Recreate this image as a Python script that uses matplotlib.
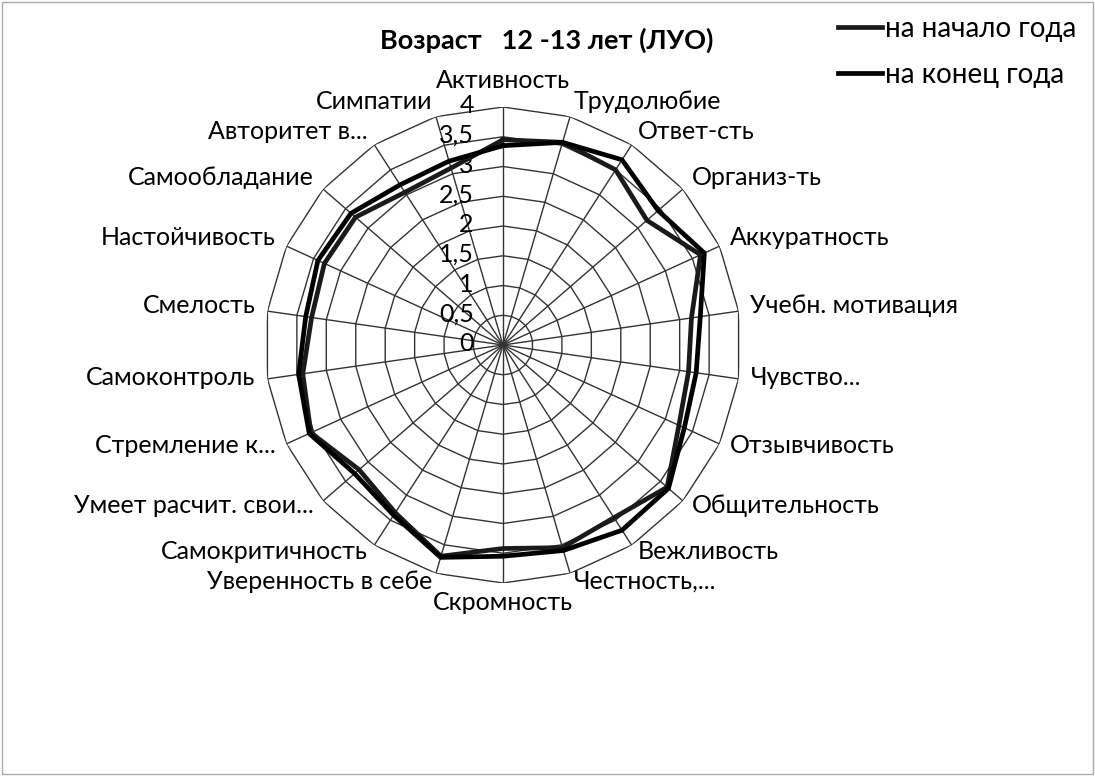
import numpy as np
import matplotlib
matplotlib.use("Agg")
import matplotlib.pyplot as plt
from matplotlib.patches import Rectangle

plt.rcParams['font.family'] = ['Lato', 'DejaVu Sans']

categories = ["Активность", "Трудолюбие", "Ответ-сть", "Организ-ть", "Аккуратность",
              "Учебн. мотивация", "Чувство...", "Отзывчивость", "Общительность",
              "Вежливость", "Честность,...", "Скромность", "Уверенность в себе",
              "Самокритичность", "Умеет расчит. свои...", "Стремление к...",
              "Самоконтроль", "Смелость", "Настойчивость", "Самообладание",
              "Авторитет в...", "Симпатии"]
start_year = [3.45, 3.55, 3.5, 3.2, 3.65, 3.2, 3.15, 3.25, 3.65, 3.45, 3.55,
              3.42, 3.7, 3.35, 3.2, 3.55, 3.4, 3.25, 3.3, 3.28, 3.05, 3.1]
end_year = [3.35, 3.55, 3.7, 3.45, 3.72, 3.35, 3.28, 3.35, 3.68, 3.7, 3.6,
            3.55, 3.72, 3.4, 3.3, 3.58, 3.47, 3.35, 3.42, 3.38, 3.2, 3.22]
ring_values = [0, 0.5, 1, 1.5, 2, 2.5, 3, 3.5, 4]
ring_labels = ["0", "0,5", "1", "1,5", "2", "2,5", "3", "3,5", "4"]
series_names = ["на начало года", "на конец года"]

W, H = 1095, 776
fig = plt.figure(figsize=(W / 100, H / 100), dpi=100)
fig.patch.set_facecolor('white')
fig.patches.append(Rectangle((0.002, 0.002), 0.996, 0.996, transform=fig.transFigure,
                             fill=False, edgecolor='#aaaaaa', lw=1.0))

cx, cy, R = 503, 345, 238
ax = fig.add_axes([(cx - R) / W, (H - cy - R) / H, 2 * R / W, 2 * R / H], projection='polar')
ax.set_theta_zero_location('N')
ax.set_theta_direction(-1)
ax.set_ylim(0, 4)
ax.grid(False)
ax.spines['polar'].set_visible(False)
ax.set_xticks([])
ax.set_yticks([])
ax.patch.set_alpha(0)

n = len(categories)
angles = np.linspace(0, 2 * np.pi, n, endpoint=False)
closed = np.concatenate([angles, angles[:1]])

grid_kw = dict(color='#333333', lw=1.0, zorder=1, solid_capstyle='butt')
for rv in ring_values[1:]:
    ax.plot(closed, [rv] * (n + 1), **grid_kw)
for a in angles:
    ax.plot([a, a], [0, 4], **grid_kw)

fs = 18
for rv, lab in zip(ring_values, ring_labels):
    ax.annotate(lab, xy=(0, rv), xytext=(-21, 1), textcoords='offset points',
                ha='right', va='center', fontsize=fs, color='black', zorder=3)

ax.plot(closed, start_year + start_year[:1], color='#1a1a1a', lw=3.4, zorder=4,
        label=series_names[0])
ax.plot(closed, end_year + end_year[:1], color='#000000', lw=3.4, zorder=5,
        label=series_names[1])

d = 8.6
for a, lab in zip(angles, categories):
    s, c = np.sin(a), np.cos(a)
    if abs(s) < 0.05:
        ha = 'center'
        va = 'bottom' if c > 0 else 'top'
    else:
        ha = 'left' if s > 0 else 'right'
        va = 'center'
    ax.annotate(lab, xy=(a, 4), xytext=(d * s, d * c + 2.5), textcoords='offset points',
                ha=ha, va=va, fontsize=fs, color='black', annotation_clip=False)

fig.text(547 / W, 1 - 40 / H, "Возраст   12 -13 лет (ЛУО)", ha='center', va='center',
         fontsize=19.5, fontweight='bold')

leg = fig.legend(loc='upper left', bbox_to_anchor=(838 / W, 1 - 16 / H), frameon=False,
                 fontsize=20, handlelength=1.6, handletextpad=0.08, labelspacing=0.72,
                 borderaxespad=0, borderpad=0)

fig.savefig("out.png", dpi=100)
